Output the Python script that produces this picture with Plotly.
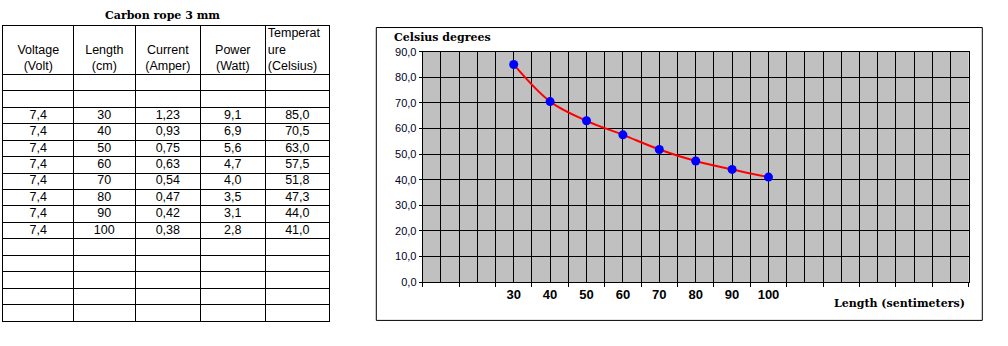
import plotly.graph_objects as go

W, H = 1008, 346

# Carbon rope 3 mm: measurements
voltage_v = [7.4, 7.4, 7.4, 7.4, 7.4, 7.4, 7.4, 7.4]
length_cm = [30, 40, 50, 60, 70, 80, 90, 100]
current_a = [1.23, 0.93, 0.75, 0.63, 0.54, 0.47, 0.42, 0.38]
power_w = [9.1, 6.9, 5.6, 4.7, 4.0, 3.5, 3.1, 2.8]
temp_c = [85.0, 70.5, 63.0, 57.5, 51.8, 47.3, 44.0, 41.0]

header_labels = ["Voltage<br>(Volt)", "Length<br>(cm)", "Current<br>(Amper)",
                 "Power<br>(Watt)", "Temperat<br>ure<br>(Celsius)"]

# chart category axis: empty slots around the measured lengths
categories = ["", ""] + [str(v) for v in length_cm] + ["", "", "", "", ""]

# empty spreadsheet rows above and below the data block
blank_above, blank_below = 2, 5


def comma(v, digits):
    return f"{v:.{digits}f}".replace(".", ",")


def column(values):
    return [""] * blank_above + values + [""] * blank_below


table_cols = [
    column([comma(v, 1) for v in voltage_v]),
    column([str(v) for v in length_cm]),
    column([comma(v, 2) for v in current_a]),
    column([comma(v, 1) for v in power_w]),
    column([comma(v, 1) for v in temp_c]),
]

SANS = "Liberation Sans, Arial, sans-serif"
SERIF = "DejaVu Serif, serif"

# ---- spreadsheet grid geometry (pixel units of the table axes) ----
col_w = [70, 62, 65, 65, 64]
col_edges = [0]
for w in col_w:
    col_edges.append(col_edges[-1] + w)
head_h, row_h = 50.3, 17.02
line_h = 17.0
n_rows = len(table_cols[0])
row_edges = [0, head_h] + [head_h + row_h * (k + 1) for k in range(n_rows)]
table_w, table_h = col_edges[-1], row_edges[-1]
table_left, table_top = 3.3, 20.7

fig = go.Figure()

# body cells
cx, cy, ct = [], [], []
for c, vals in enumerate(table_cols):
    for r, txt in enumerate(vals):
        if txt:
            cx.append((col_edges[c] + col_edges[c + 1]) / 2)
            cy.append(head_h + row_h * (r + 0.5))
            ct.append(txt)
fig.add_trace(go.Scatter(
    x=cx, y=cy, text=ct, mode="text", xaxis="x2", yaxis="y2",
    textposition="middle center",
    textfont=dict(family=SANS, size=12.5, color="black"),
    hoverinfo="skip", showlegend=False,
))

# header cells: wrapped lines stacked from the bottom; last column left aligned
hx, hy, ht, hpos = [], [], [], []
last = len(header_labels) - 1
for c, label in enumerate(header_labels):
    lines = label.split("<br>")
    for j, part in enumerate(reversed(lines)):
        if c == last:
            hx.append(col_edges[c] + 2.5)
            hpos.append("middle right")
        else:
            hx.append((col_edges[c] + col_edges[c + 1]) / 2)
            hpos.append("middle center")
        hy.append(head_h - 7.7 - line_h * j)
        ht.append(part)
fig.add_trace(go.Scatter(
    x=hx, y=hy, text=ht, mode="text",
    xaxis="x2", yaxis="y2", textposition=hpos,
    textfont=dict(family=SANS, size=12.5, color="black"),
    hoverinfo="skip", showlegend=False,
))

# temperature curve
x_pos = [categories.index(str(v)) for v in length_cm]
fig.add_trace(go.Scatter(
    x=x_pos, y=temp_c,
    mode="lines+markers",
    line=dict(color="#FF0000", width=2, shape="spline"),
    marker=dict(color="#0000FF", size=9),
    showlegend=False,
    hoverinfo="skip",
))

n = len(categories)
grid_axis = dict(showgrid=True, gridcolor="black", gridwidth=1,
                 showline=True, linecolor="black", linewidth=1, mirror=True,
                 zeroline=False, showticklabels=False, ticks="",
                 tickmode="array", fixedrange=True)

fig.update_layout(
    width=W, height=H,
    margin=dict(l=0, r=0, t=0, b=0),
    paper_bgcolor="white",
    plot_bgcolor="white",
    separators=", ",
    showlegend=False,
    xaxis=dict(
        domain=[422.7 / W, 968.7 / W],
        range=[-0.5, n - 0.5],
        tickmode="array",
        tickvals=list(range(n)),
        ticktext=categories,
        ticks="",
        showgrid=True, gridcolor="black", gridwidth=1,
        showline=True, linecolor="black", linewidth=1, mirror=True,
        zeroline=False,
        tickfont=dict(family=SANS, size=13, color="black", weight="bold"),
        minor=dict(
            tickmode="array",
            tickvals=[i - 0.5 for i in range(n + 1)],
            ticks="outside", ticklen=4, tickcolor="black", tickwidth=1,
            showgrid=True, gridcolor="black", gridwidth=1,
        ),
        fixedrange=True,
    ),
    yaxis=dict(
        domain=[1 - 286 / H, 1 - 47.3 / H],
        range=[0, 90],
        dtick=10,
        tickformat=".1f",
        ticks="outside", ticklen=3, tickcolor="black",
        showgrid=True, gridcolor="black", gridwidth=1,
        showline=True, linecolor="black", linewidth=1, mirror=True,
        zeroline=False,
        tickfont=dict(family=SANS, size=11, color="#000022"),
        fixedrange=True,
    ),
    xaxis2=dict(grid_axis,
                domain=[table_left / W, (table_left + table_w) / W],
                range=[0, table_w], tickvals=col_edges, anchor="y2"),
    yaxis2=dict(grid_axis,
                domain=[1 - (table_top + table_h) / H, 1 - table_top / H],
                range=[table_h, 0], tickvals=row_edges, anchor="x2"),
    shapes=[
        # grey plot area of the chart, under its grid
        dict(type="rect", xref="x domain", yref="y domain",
             x0=0, x1=1, y0=0, y1=1, line=dict(width=0),
             fillcolor="#C0C0C0", layer="below"),
        # chart area frame
        dict(type="rect", xref="paper", yref="paper",
             x0=376.3 / W, x1=982.3 / W, y0=1 - 325.7 / H, y1=1 - 22.3 / H,
             line=dict(color="black", width=1), fillcolor="rgba(0,0,0,0)",
             layer="below"),
    ],
    annotations=[
        dict(text="<b>Carbon rope 3 mm</b>", xref="paper", yref="paper",
             x=162 / W, y=1 - 10 / H, xanchor="center", yanchor="middle",
             showarrow=False, font=dict(family=SERIF, size=11, color="black")),
        dict(text="<b>Celsius degrees</b>", xref="paper", yref="paper",
             x=392 / W, y=1 - 33 / H, xanchor="left", yanchor="middle",
             showarrow=False, font=dict(family=SERIF, size=11, color="black")),
        dict(text="<b>Length (sentimeters)</b>", xref="paper", yref="paper",
             x=967 / W, y=1 - 308 / H, xanchor="right", yanchor="middle",
             showarrow=False, font=dict(family=SERIF, size=11, color="black")),
    ],
)

fig.write_html("out.html")
